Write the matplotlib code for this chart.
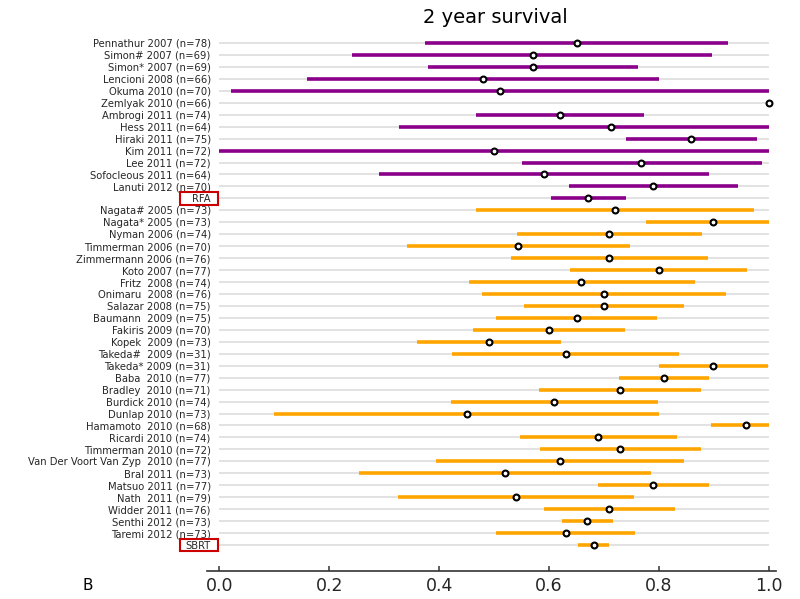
import matplotlib
matplotlib.use("Agg")
import matplotlib.pyplot as plt
import matplotlib.transforms as mtransforms
from matplotlib.patches import Rectangle

# study labels, top to bottom
labels = [
    "Pennathur 2007 (n=78)", "Simon# 2007 (n=69)", "Simon* 2007 (n=69)",
    "Lencioni 2008 (n=66)", "Okuma 2010 (n=70)", "Zemlyak 2010 (n=66)",
    "Ambrogi 2011 (n=74)", "Hess 2011 (n=64)", "Hiraki 2011 (n=75)",
    "Kim 2011 (n=72)", "Lee 2011 (n=72)", "Sofocleous 2011 (n=64)",
    "Lanuti 2012 (n=70)", "RFA",
    "Nagata# 2005 (n=73)", "Nagata* 2005 (n=73)", "Nyman 2006 (n=74)",
    "Timmerman 2006 (n=70)", "Zimmermann 2006 (n=76)", "Koto 2007 (n=77)",
    "Fritz  2008 (n=74)", "Onimaru  2008 (n=76)", "Salazar 2008 (n=75)",
    "Baumann  2009 (n=75)", "Fakiris 2009 (n=70)", "Kopek  2009 (n=73)",
    "Takeda#  2009 (n=31)", "Takeda* 2009 (n=31)", "Baba  2010 (n=77)",
    "Bradley  2010 (n=71)", "Burdick 2010 (n=74)", "Dunlap 2010 (n=73)",
    "Hamamoto  2010 (n=68)", "Ricardi 2010 (n=74)", "Timmerman 2010 (n=72)",
    "Van Der Voort Van Zyp  2010 (n=77)", "Bral 2011 (n=73)",
    "Matsuo 2011 (n=77)", "Nath  2011 (n=79)", "Widder 2011 (n=76)",
    "Senthi 2012 (n=73)", "Taremi 2012 (n=73)", "SBRT",
]

# 2 year survival estimate and confidence interval
survival = [
    0.65, 0.57, 0.57, 0.48, 0.51, 1.00, 0.62, 0.713, 0.859, 0.50, 0.768,
    0.59, 0.79, 0.671,
    0.72, 0.899, 0.71, 0.544, 0.71, 0.80, 0.659, 0.70, 0.70, 0.65, 0.60,
    0.49, 0.63, 0.899, 0.809, 0.73, 0.609, 0.45, 0.959, 0.69, 0.729, 0.62,
    0.52, 0.79, 0.539, 0.71, 0.67, 0.63, 0.681,
]
ci_low = [
    0.375, 0.242, 0.379, 0.159, 0.022, 1.00, 0.467, 0.327, 0.74, 0.0, 0.551,
    0.29, 0.636, 0.603,
    0.467, 0.776, 0.542, 0.341, 0.530, 0.638, 0.455, 0.478, 0.555, 0.503,
    0.461, 0.359, 0.423, 0.80, 0.728, 0.582, 0.422, 0.10, 0.895, 0.547,
    0.584, 0.395, 0.255, 0.689, 0.326, 0.591, 0.624, 0.504, 0.653,
]
ci_high = [
    0.926, 0.896, 0.761, 0.80, 1.0, 1.00, 0.773, 1.0, 0.979, 1.0, 0.987,
    0.891, 0.944, 0.74,
    0.973, 1.0, 0.878, 0.748, 0.89, 0.961, 0.865, 0.922, 0.845, 0.797,
    0.739, 0.622, 0.836, 0.998, 0.891, 0.876, 0.799, 0.80, 1.0, 0.832,
    0.876, 0.845, 0.785, 0.891, 0.755, 0.83, 0.716, 0.756, 0.709,
]
n_rfa = 14  # first 14 rows are RFA (incl. pooled)

colors = ["#8b008b" if i < n_rfa else "#ffa500" for i in range(len(labels))]
y = list(range(len(labels)))

fig = plt.figure(figsize=(8, 5.99), dpi=100)
ax = fig.add_axes([0.259, 0.0467, 0.711, 0.8915])

# light horizontal guide lines
ax.hlines(y, 0, 1, color="#dddddd", lw=1.2, zorder=0)
# confidence intervals
ax.hlines(y, ci_low, ci_high, color=colors, lw=2.6, zorder=2)
# point estimates
ax.scatter(survival, y, s=18, facecolor="white", edgecolor="black",
           linewidth=1.5, zorder=3)

ax.set_xlim(-0.022, 1.013)
ax.set_ylim(44.18, -0.5)
ax.set_yticks(y)
ax.set_yticklabels(labels, fontsize=7.2, color="#262626")
ax.tick_params(axis="y", length=0, pad=-2.5)
ax.set_xticks([0.0, 0.2, 0.4, 0.6, 0.8, 1.0])
ax.set_xticklabels(["0.0", "0.2", "0.4", "0.6", "0.8", "1.0"])
ax.tick_params(axis="x", direction="in", length=3.5, width=1.1, labelsize=12.5,
               color="#333333", labelcolor="#262626", pad=4)

for side in ["top", "right", "left"]:
    ax.spines[side].set_visible(False)
ax.spines["bottom"].set_color("#333333")
ax.spines["bottom"].set_linewidth(1.2)

# red boxes around the pooled rows (fixed width, like the original)
trans = mtransforms.blended_transform_factory(ax.transAxes, ax.transData)
for i, lab in enumerate(labels):
    if lab in ("RFA", "SBRT"):
        ax.add_patch(Rectangle((-0.0475, i - 0.53), 0.0668, 1.06,
                               transform=trans, facecolor="none",
                               edgecolor="#cc0000", lw=1.5, clip_on=False,
                               zorder=5))

fig.text(0.619, 0.97, "2 year survival", ha="center", va="center",
         fontsize=14)
fig.text(0.11, 0.023, "B", ha="center", va="center", fontsize=11)

fig.savefig("out.png", dpi=100)
